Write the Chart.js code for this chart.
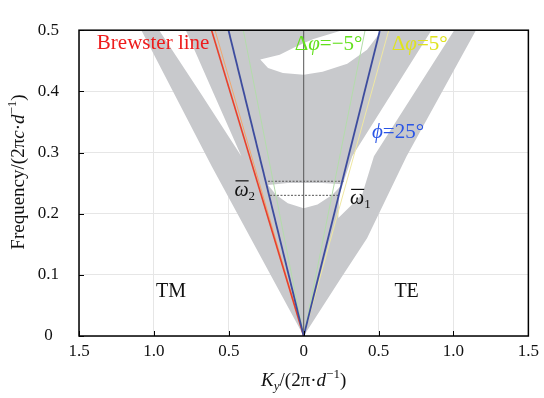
<!DOCTYPE html>
<html>
<head>
<meta charset="utf-8">
<script src="https://cdn.jsdelivr.net/npm/chart.js@4.4.1/dist/chart.umd.min.js"></script>
<style>
  html, body { margin: 0; padding: 0; background: #fff; }
</style>
</head>
<body>
<canvas id="myChart" width="544" height="398"></canvas>
<script>
// tick values of both axes
var kTicks = [-1.5, -1, -0.5, 0, 0.5, 1, 1.5];
var fTicks = [0, 0.1, 0.2, 0.3, 0.4, 0.5];

// projected band region (gray), as [Ky, frequency]
var bandWedge = [[0, 0], [-0.615, 0.278], [-1.084, 0.5], [1.15, 0.5], [0.687, 0.294], [0.423, 0.16], [0.245, 0.093], [0, 0]];
// band gaps cut out of it (white)
var gapLeft = [[-0.965, 0.5], [-0.787, 0.5], [-0.602, 0.397], [-0.416, 0.294], [-0.688, 0.397], [-0.965, 0.5]];
var gapRight = [[0.853, 0.5], [1.005, 0.5], [0.469, 0.294], [0.39, 0.231], [0.231, 0.193], [0.238, 0.231], [0.324, 0.294], [0.853, 0.5]];
var gapTop = [[-0.29, 0.452], [-0.16, 0.46], [-0.06, 0.472], [0.06, 0.485], [0.258, 0.5], [0.522, 0.5],
              [0.423, 0.468], [0.291, 0.445], [0.126, 0.432], [0, 0.427], [-0.139, 0.43], [-0.238, 0.438], [-0.29, 0.452]];
var gapMid = [[-0.238, 0.247], [-0.106, 0.25], [0, 0.25], [0.126, 0.25], [0.258, 0.248], [0.192, 0.231],
              [0.0925, 0.215], [0, 0.209], [-0.106, 0.217], [-0.185, 0.231], [-0.238, 0.247]];

// straight lines through the origin, [Ky at top, 0.5]
var brewsterLine = [[0, 0], [-0.615, 0.5]];
var phiLeft = [[0, 0], [-0.502, 0.5]];
var phiRight = [[0, 0], [0.509, 0.5]];
var minusLeft = [[0, 0], [-0.403, 0.5]];
var minusRight = [[0, 0], [0.41, 0.5]];
var plusLeft = [[0, 0], [-0.592, 0.5]];
var plusRight = [[0, 0], [0.568, 0.5]];
var centerLine = [[0, 0], [0, 0.5]];

// the two marked frequencies
var omegaUpper = [[-0.238, 0.253], [0.271, 0.253]];
var omegaLower = [[-0.225, 0.23], [0.238, 0.23]];

var SERIF = "'Liberation Serif', 'Times New Roman', serif";

function toPts(arr) {
    return arr.map(function (p) { return { x: p[0], y: p[1] }; });
}

function polyDs(arr, color, order) {
    return {
        data: toPts(arr), fill: 'shape', backgroundColor: color,
        borderColor: 'rgba(0,0,0,0)', borderWidth: 0,
        pointRadius: 0, tension: 0, order: order
    };
}

function lineDs(arr, color, width, order, dash) {
    return {
        data: toPts(arr), fill: false, borderColor: color, borderWidth: width,
        borderDash: dash || [], pointRadius: 0, tension: 0, order: order
    };
}

// labels put on the plot (text parts: [text, italic, sub/sup, overline])
var notes = [
    { k: -1.381, f: 0.479, size: 21, color: '#ee1c1c', align: 'left', parts: [['Brewster line']] },
    { k: -0.06, f: 0.476, size: 21, color: '#62e01c', align: 'left', parts: [['Δ'], ['φ', 1], ['=−5°']] },
    { k: 0.588, f: 0.476, size: 21, color: '#dfe31e', align: 'left', parts: [['Δ'], ['φ', 1], ['=5°']] },
    { k: 0.456, f: 0.332, size: 21, color: '#2a55e6', align: 'left', parts: [['ϕ', 1], ['=25°']] },
    { k: -0.462, f: 0.238, size: 20, color: '#111', align: 'left', parts: [['ω', 1, 0, 1], ['2', 0, 'sub']] },
    { k: 0.31, f: 0.224, size: 20, color: '#111', align: 'left', parts: [['ω', 1, 0, 1], ['1', 0, 'sub']] },
    { k: -0.886, f: 0.073, size: 20, color: '#111', align: 'center', parts: [['TM']] },
    { k: 0.687, f: 0.073, size: 20, color: '#111', align: 'center', parts: [['TE']] }
];

function partFont(p, size) {
    var s = p[2] ? Math.round(size * 0.66) : size;
    return (p[1] ? 'italic ' : '') + s + 'px ' + SERIF;
}

function drawParts(ctx, parts, x, y, align, size) {
    var w = 0;
    parts.forEach(function (p) { ctx.font = partFont(p, size); w += ctx.measureText(p[0]).width; });
    var cx = align === 'center' ? x - w / 2 : x;
    ctx.textAlign = 'left';
    ctx.textBaseline = 'middle';
    parts.forEach(function (p) {
        ctx.font = partFont(p, size);
        var dy = p[2] === 'sub' ? size * 0.3 : (p[2] === 'sup' ? -size * 0.32 : 0);
        var pw = ctx.measureText(p[0]).width;
        ctx.fillText(p[0], cx, y + dy);
        if (p[3]) {
            ctx.save();
            ctx.strokeStyle = ctx.fillStyle;
            ctx.lineWidth = 1.2;
            ctx.beginPath();
            ctx.moveTo(cx + 1, y - size * 0.48);
            ctx.lineTo(cx + pw, y - size * 0.48);
            ctx.stroke();
            ctx.restore();
        }
        cx += pw;
    });
}

var decorations = {
    id: 'decorations',
    afterDatasetsDraw: function (chart) {
        var ctx = chart.ctx, a = chart.chartArea;
        var xs = chart.scales.x, ys = chart.scales.y;
        ctx.save();
        // inward tick marks
        ctx.strokeStyle = '#000';
        ctx.lineWidth = 1;
        ctx.beginPath();
        kTicks.forEach(function (v) {
            var px = Math.round(xs.getPixelForValue(v)) + 0.5;
            ctx.moveTo(px, a.bottom); ctx.lineTo(px, a.bottom - 5);
        });
        fTicks.forEach(function (v) {
            var py = Math.round(ys.getPixelForValue(v)) + 0.5;
            ctx.moveTo(a.left, py); ctx.lineTo(a.left + 5, py);
        });
        ctx.stroke();
        // frame
        ctx.lineWidth = 1.5;
        ctx.strokeRect(a.left, a.top, a.right - a.left, a.bottom - a.top);
        // notes
        notes.forEach(function (n) {
            ctx.fillStyle = n.color;
            drawParts(ctx, n.parts, xs.getPixelForValue(n.k), ys.getPixelForValue(n.f), n.align, n.size);
        });
        // axis titles
        ctx.fillStyle = '#111';
        drawParts(ctx, [['K', 1], ['y', 1, 'sub'], ['/(2π·'], ['d', 1], ['−1', 0, 'sup'], [')']],
                  (a.left + a.right) / 2, 381, 'center', 19);
        ctx.translate(19, 172);
        ctx.rotate(-Math.PI / 2);
        drawParts(ctx, [['Frequency/(2π'], ['c', 1], ['·'], ['d', 1], ['−1', 0, 'sup'], [')']],
                  0, 0, 'center', 19);
        ctx.restore();
    }
};

var ctx = document.getElementById('myChart').getContext('2d');

var myChart = new Chart(ctx, {
    type: 'line',
    data: {
        datasets: [
            polyDs(bandWedge, '#c8c9cc', 30),
            polyDs(gapLeft, '#ffffff', 29),
            polyDs(gapRight, '#ffffff', 29),
            polyDs(gapTop, '#ffffff', 29),
            polyDs(gapMid, '#ffffff', 29),
            lineDs(centerLine, '#555555', 1, 20),
            lineDs(omegaUpper, '#555555', 1, 19, [2, 1.5]),
            lineDs(omegaLower, '#555555', 1, 19, [2, 1.5]),
            lineDs(minusLeft, '#b3dcaa', 1, 15),
            lineDs(minusRight, '#b3dcaa', 1, 15),
            lineDs(plusLeft, '#f2a56c', 1, 15),
            lineDs(plusRight, '#efe7a2', 1, 15),
            lineDs(brewsterLine, '#e8412c', 1.6, 12),
            lineDs(phiLeft, '#3d4c9e', 1.8, 11),
            lineDs(phiRight, '#3d4c9e', 1.8, 11)
        ]
    },
    options: {
        responsive: false,
        animation: false,
        events: [],
        layout: { padding: { top: 20, right: 11, left: 0, bottom: 0 } },
        plugins: { legend: { display: false }, tooltip: { enabled: false } },
        scales: {
            x: {
                type: 'linear', min: -1.5, max: 1.5,
                afterBuildTicks: function (s) { s.ticks = kTicks.map(function (v) { return { value: v }; }); },
                afterFit: function (s) { s.height = 62; },
                ticks: {
                    padding: 5, color: '#111', font: { family: SERIF, size: 17 },
                    callback: function (v) { return v === 0 ? '0' : Math.abs(v).toFixed(1); }
                },
                grid: { color: '#e6e6e6', drawTicks: false },
                border: { display: false }
            },
            y: {
                min: 0, max: 0.5,
                afterBuildTicks: function (s) { s.ticks = fTicks.map(function (v) { return { value: v }; }); },
                afterFit: function (s) { s.width = 79; },
                ticks: {
                    padding: 20, crossAlign: 'center', color: '#111', font: { family: SERIF, size: 17 },
                    callback: function (v) { return v === 0 ? '0' : v.toFixed(1); }
                },
                grid: { color: '#e6e6e6', drawTicks: false },
                border: { display: false }
            }
        }
    },
    plugins: [decorations]
});
</script>
</body>
</html>
